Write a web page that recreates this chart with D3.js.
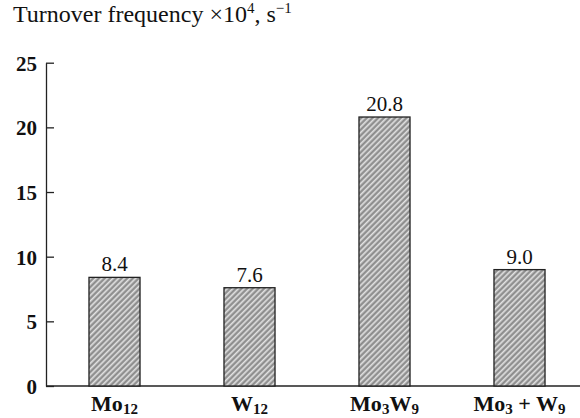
<!DOCTYPE html>
<html>
<head>
<meta charset="utf-8">
<script src="https://cdn.jsdelivr.net/npm/d3@7"></script>
<style>
  body { margin: 0; background: #fff; }
  svg text { font-family: "Liberation Serif", "Times New Roman", serif; fill: #111; }
  .tick text { font-weight: bold; font-size: 21px; }
  .cat { font-weight: bold; font-size: 22px; }
  .val { font-size: 21px; }
  .title { font-size: 24px; }
</style>
</head>
<body>
<div class="chart"></div>
<script>
var svgWidth = 580;
var svgHeight = 418;

// data
var catMain = [["Mo", "12"], ["W", "12"], ["Mo", "3", "W", "9"], ["Mo", "3", " + W", "9"]];
var catKeys = ["Mo12", "W12", "Mo3W9", "Mo3+W9"];
var tofValues = [8.4, 7.6, 20.8, 9.0];
var valueLabels = ["8.4", "7.6", "20.8", "9.0"];
var yTicks = [0, 5, 10, 15, 20, 25];

var svg = d3.select(".chart")
  .append("svg")
  .attr("width", svgWidth)
  .attr("height", svgHeight);

// hatch fill
var defs = svg.append("defs");
var pat = defs.append("pattern")
  .attr("id", "hatch")
  .attr("patternUnits", "userSpaceOnUse")
  .attr("width", 4)
  .attr("height", 4)
  .attr("patternTransform", "rotate(45)");
pat.append("rect").attr("width", 4).attr("height", 4).attr("fill", "#a4a4a4");
pat.append("rect").attr("x", 0).attr("width", 1.4).attr("height", 4).attr("fill", "#e2e2e2");
pat.append("rect").attr("x", 2.3).attr("width", 1.0).attr("height", 4).attr("fill", "#7e7e7e");

var yScale = d3.scaleLinear()
  .domain([0, 25])
  .range([386, 62.7]);

var xScale = d3.scaleBand()
  .domain(catKeys)
  .range([47, 587])
  .paddingInner(0.622)
  .paddingOuter(0.311);

// y axis, ticks pointing inward
var yAxis = svg.append("g")
  .attr("transform", "translate(46,0)")
  .call(d3.axisLeft(yScale).tickValues(yTicks).tickSize(-8).tickPadding(9).tickSizeOuter(0));
yAxis.select(".domain").attr("stroke", "#222").attr("stroke-width", 1.3);
yAxis.selectAll(".tick line").attr("stroke", "#222").attr("stroke-width", 1.3);
yAxis.selectAll(".tick text").attr("fill", "#111").attr("dy", "0.35em");

// x axis baseline
svg.append("line")
  .attr("x1", 46)
  .attr("x2", svgWidth)
  .attr("y1", yScale(0))
  .attr("y2", yScale(0))
  .attr("stroke", "#222")
  .attr("stroke-width", 1.3);

svg.selectAll("rect.bar")
  .data(tofValues)
  .enter().append("rect")
  .attr("class", "bar")
  .attr("x", function(d, i) { return xScale(catKeys[i]); })
  .attr("y", function(d) { return yScale(d); })
  .attr("width", xScale.bandwidth())
  .attr("height", function(d) { return yScale(0) - yScale(d); })
  .attr("fill", "url(#hatch)")
  .attr("stroke", "#222")
  .attr("stroke-width", 1.3);

svg.selectAll("text.val")
  .data(tofValues)
  .enter().append("text")
  .attr("class", "val")
  .attr("text-anchor", "middle")
  .attr("x", function(d, i) { return xScale(catKeys[i]) + xScale.bandwidth() / 2; })
  .attr("y", function(d) { return yScale(d) - 6; })
  .text(function(d, i) { return valueLabels[i]; });

// category labels with subscripts
catMain.forEach(function(parts, i) {
  var t = svg.append("text")
    .attr("class", "cat")
    .attr("text-anchor", "middle")
    .attr("x", xScale(catKeys[i]) + xScale.bandwidth() / 2)
    .attr("y", 411);
  parts.forEach(function(p, j) {
    var sub = j % 2 === 1;
    var ts = t.append("tspan").text(p);
    if (sub) ts.attr("font-size", "15px").attr("dy", 3);
    else if (j > 0) ts.attr("dy", -3);
  });
});

// title
var title = svg.append("text")
  .attr("class", "title")
  .attr("x", 13)
  .attr("y", 22);
title.append("tspan").text("Turnover frequency \u00d710");
title.append("tspan").text("4").attr("font-size", "15px").attr("dy", -9);
title.append("tspan").text(", s").attr("dy", 9);
title.append("tspan").text("\u22121").attr("font-size", "15px").attr("dy", -9);
</script>
</body>
</html>
